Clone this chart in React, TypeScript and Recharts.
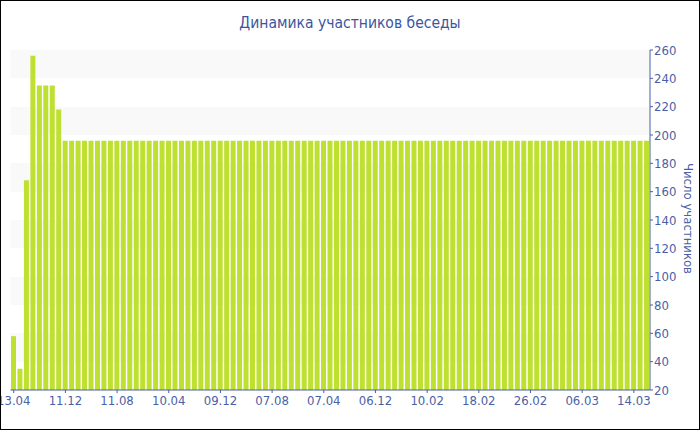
import { Bar, BarChart, CartesianGrid, XAxis, YAxis } from 'recharts';

// dates shown under every 8th bar
const tickLabels = ['13.04', '11.12', '11.08', '10.04', '09.12', '07.08', '07.04', '06.12', '10.02', '18.02', '26.02', '06.03', '14.03'];

// members per day
const members = [
  58, 35, 168, 256, 235, 235, 235, 218, 196, 196,
  196, 196, 196, 196, 196, 196, 196, 196, 196, 196,
  196, 196, 196, 196, 196, 196, 196, 196, 196, 196,
  196, 196, 196, 196, 196, 196, 196, 196, 196, 196,
  196, 196, 196, 196, 196, 196, 196, 196, 196, 196,
  196, 196, 196, 196, 196, 196, 196, 196, 196, 196,
  196, 196, 196, 196, 196, 196, 196, 196, 196, 196,
  196, 196, 196, 196, 196, 196, 196, 196, 196, 196,
  196, 196, 196, 196, 196, 196, 196, 196, 196, 196,
  196, 196, 196, 196, 196, 196, 196, 196, 196,
];

const valueTicks = [20, 40, 60, 80, 100, 120, 140, 160, 180, 200, 220, 240, 260];
const minorTicks = [30, 50, 70, 90, 110, 130, 150, 170, 190, 210, 230, 250];

const data = members.map((count, day) => ({ day, count }));

const blue = '#4a5fa6';
const font = "'DejaVu Sans Condensed', 'Liberation Sans', sans-serif";

export default function App() {
  return (
    <div
      style={{
        position: 'absolute',
        left: 0,
        top: 0,
        width: 700,
        height: 430,
        boxSizing: 'border-box',
        border: '1px solid #000',
        background: '#fff',
        fontFamily: font,
      }}
    >
      <div
        style={{
          position: 'absolute',
          left: 0,
          top: 14,
          width: 698,
          textAlign: 'center',
          fontSize: 15.5,
          lineHeight: '16px',
          color: '#3d55a0',
        }}
      >
        Динамика участников беседы
      </div>
      <div
        style={{
          position: 'absolute',
          left: 680,
          top: 162,
          writingMode: 'vertical-rl',
          fontSize: 13,
          lineHeight: '14px',
          color: blue,
        }}
      >
        Число участников
      </div>
      <BarChart
        width={698}
        height={428}
        data={data}
        margin={{ top: 49, right: 0, bottom: 9, left: 9.5 }}
        barCategoryGap={0.5}
      >
        <CartesianGrid
          vertical={false}
          stroke="none"
          horizontalFill={['#f9f9f9', 'transparent']}
        />
        <XAxis
          dataKey="day"
          interval={7}
          height={30}
          tickSize={3}
          tickMargin={3}
          axisLine={{ stroke: blue }}
          tickLine={{ stroke: blue }}
          tick={{ fill: blue, fontSize: 13, fontFamily: font }}
          tickFormatter={(d) => tickLabels[d / 8] ?? ''}
        />
        <YAxis
          orientation="right"
          type="number"
          domain={[20, 260]}
          ticks={valueTicks}
          width={49}
          tickSize={3}
          tickMargin={1}
          axisLine={{ stroke: blue }}
          tickLine={{ stroke: blue }}
          tick={{ fill: blue, fontSize: 13, fontFamily: font }}
        />
        <YAxis
          yAxisId="minor"
          orientation="right"
          type="number"
          mirror
          domain={[20, 260]}
          ticks={minorTicks}
          axisLine={false}
          tickSize={3}
          tickLine={{ stroke: '#9aa4c8' }}
          tickFormatter={() => ''}
        />
        <Bar dataKey="count" fill="#bde031" isAnimationActive={false} />
      </BarChart>
    </div>
  );
}
